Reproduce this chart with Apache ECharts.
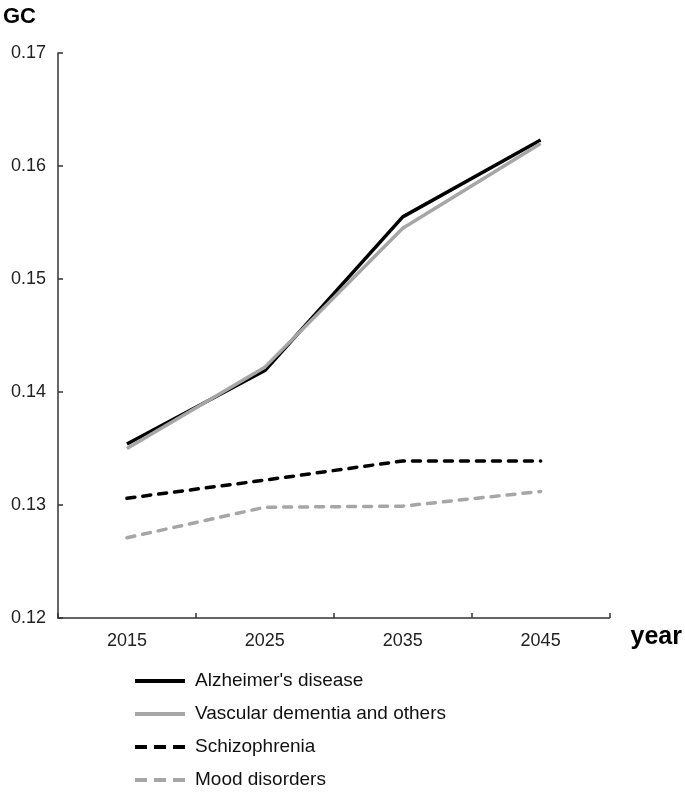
<!DOCTYPE html>
<html>
<head>
<meta charset="utf-8">
<script src="https://cdn.jsdelivr.net/npm/echarts@6/dist/echarts.min.js"></script>
<style>html,body{margin:0;padding:0;background:#fff;}#c{width:685px;height:792px;}</style>
</head>
<body>
<div id="c"></div>
<script>
const years = ['2015', '2025', '2035', '2045'];
const alzheimer = [0.1354, 0.1419, 0.1555, 0.1623];
const vascular = [0.1350, 0.1422, 0.1545, 0.1620];
const schizophrenia = [0.1306, 0.1322, 0.1339, 0.1339];
const mood = [0.1271, 0.1298, 0.1299, 0.1312];
const seriesNames = ["Alzheimer's disease", 'Vascular dementia and others', 'Schizophrenia', 'Mood disorders'];

const FONT = '"Liberation Sans", Arial, sans-serif';
const BLACK = '#000000';
const GRAY = '#a6a6a6';
const dash = [8, 8];
const solidIcon = 'path://M0,0h50v4h-50z';
const dashIcon = 'path://M0,0h12v4h-12zM19,0h12v4h-12zM38,0h12v4h-12z';
const legendIcons = [solidIcon, solidIcon, dashIcon, dashIcon];
const legendRowCenters = [681, 714, 747, 780];

function mk(name, data, color, dashed) {
  return {
    name: name, type: 'line', data: data, symbol: 'none', silent: true,
    lineStyle: { color: color, width: 3.5, type: dashed ? dash : 'solid', cap: dashed ? 'round' : 'butt', join: 'round' },
    itemStyle: { color: color },
    z: dashed ? 2 : 3
  };
}

const FS = 19;
const legends = seriesNames.map((n, i) => ({
  orient: 'vertical', left: 135, top: legendRowCenters[i] - FS / 2, padding: 0,
  itemWidth: 50, itemHeight: 4, selectedMode: false,
  textStyle: { fontFamily: FONT, fontSize: FS, color: '#111', padding: [0, 0, 0, 5] },
  data: [{ name: n, icon: legendIcons[i] }]
}));

const chart = echarts.init(document.getElementById('c'), null, { renderer: 'canvas' });
chart.setOption({
  animation: false,
  backgroundColor: '#ffffff',
  grid: { left: 54, right: 73, top: 53, bottom: 174, containLabel: false },
  xAxis: {
    type: 'category', data: years, boundaryGap: true,
    name: 'year', nameLocation: 'end', nameGap: 21,
    nameTextStyle: { fontFamily: FONT, fontSize: 25, fontWeight: 'bold', color: '#000', verticalAlign: 'top', padding: [7, 0, 0, 0] },
    axisLine: { lineStyle: { color: '#333', width: 1.5 } },
    axisTick: { show: true, inside: true, length: 5, alignWithLabel: false, lineStyle: { color: '#333', width: 1.5 } },
    axisLabel: { fontFamily: FONT, fontSize: 18, color: '#222', margin: 14 },
    splitLine: { show: false }
  },
  yAxis: {
    type: 'value', min: 0.12, max: 0.17, interval: 0.01,
    name: 'GC', nameLocation: 'end', nameGap: 25,
    nameTextStyle: { fontFamily: FONT, fontSize: 22, fontWeight: 'bold', color: '#000', align: 'left', padding: [0, 0, 0, -55] },
    axisLine: { show: true, lineStyle: { color: '#333', width: 1.5 } },
    axisTick: { show: true, inside: true, length: 5, lineStyle: { color: '#333', width: 1.5 } },
    axisLabel: { fontFamily: FONT, fontSize: 18, color: '#222', margin: 12, formatter: v => v.toFixed(2) },
    splitLine: { show: false }
  },
  legend: legends,
  series: [
    mk(seriesNames[0], alzheimer, BLACK, false),
    mk(seriesNames[1], vascular, GRAY, false),
    mk(seriesNames[2], schizophrenia, BLACK, true),
    mk(seriesNames[3], mood, GRAY, true)
  ]
});
</script>
</body>
</html>
